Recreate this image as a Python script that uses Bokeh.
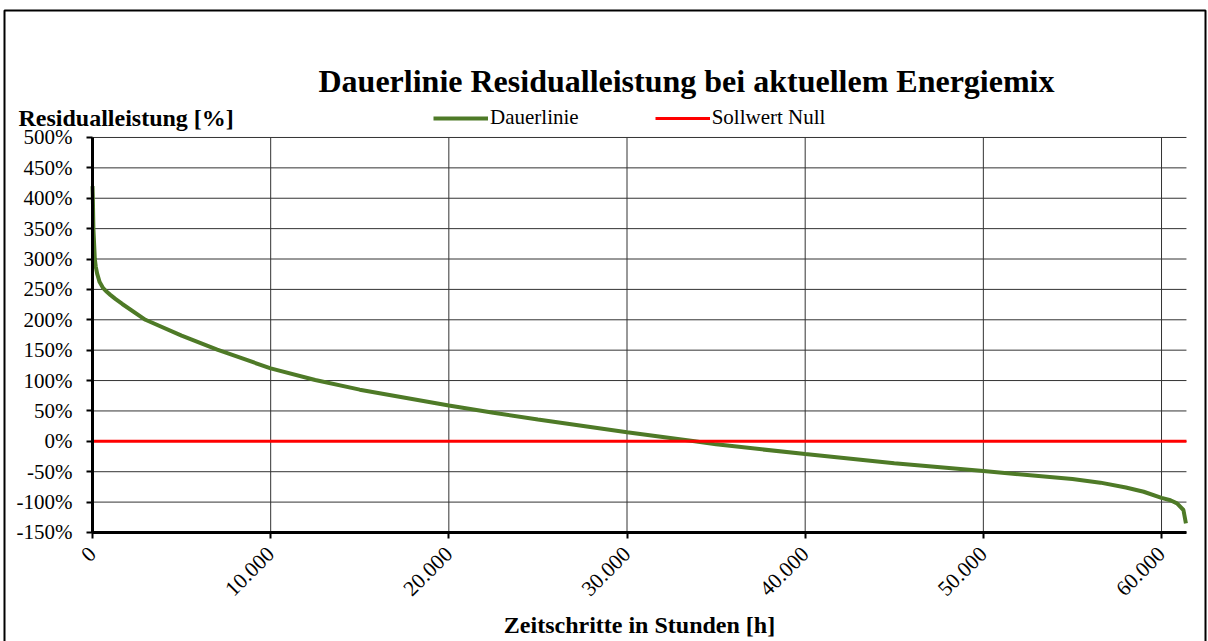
import math
from bokeh.plotting import figure
from bokeh.models import Label, Legend, LegendItem, FixedTicker, Range1d, BoxAnnotation
from bokeh.embed import file_html
from bokeh.resources import INLINE

# data
hours = [0, 20, 50, 130, 180, 260, 400, 600, 800, 1000, 1300, 1670, 2970, 5000, 7000,
         10000, 12500, 15000, 20000, 22500, 25000, 30000, 33800, 35000, 40000, 45000,
         50000, 55000, 56570, 58000, 59000, 60000, 60500, 60870, 61230, 61370]
residual = [420, 400, 350, 300, 288, 276, 262, 252, 246, 241, 234, 226, 200, 174, 151,
            120, 101, 85, 59, 47, 36, 15, 0, -5, -21, -36,
            -49, -62, -68, -76, -83, -93, -97, -102, -113, -135]
x_max = 61400
null_x = [0, x_max]
null_y = [0, 0]

x_ticks = [0, 10000, 20000, 30000, 40000, 50000, 60000]
x_tick_labels = ["0", "10.000", "20.000", "30.000", "40.000", "50.000", "60.000"]
y_ticks = [-150, -100, -50, 0, 50, 100, 150, 200, 250, 300, 350, 400, 450, 500]
y_tick_labels = ["-150%", "-100%", "-50%", "0%", "50%", "100%", "150%", "200%", "250%",
                 "300%", "350%", "400%", "450%", "500%"]

title_text = "Dauerlinie Residualleistung bei aktuellem Energiemix"
y_label_text = "Residualleistung [%]"
x_label_text = "Zeitschritte in Stunden [h]"
series_names = ["Dauerlinie", "Sollwert Null"]

FONT = "Liberation Serif"

# the frame covers the whole canvas, so nothing is clipped; both axes are placed
# at fixed data positions inside it
p = figure(width=1208, height=641, output_backend="svg", toolbar_location=None,
           x_range=Range1d(-5164, 62637), y_range=Range1d(-329.4, 725.4),
           min_border_left=0, min_border_right=0, min_border_top=0, min_border_bottom=0)
p.outline_line_color = None

# grid lines limited to the axes' extent
p.segment(x0=x_ticks, y0=[y_ticks[0]] * len(x_ticks), x1=x_ticks,
          y1=[y_ticks[-1]] * len(x_ticks), line_color="#333333", line_width=1)
p.segment(x0=[0] * len(y_ticks), y0=y_ticks, x1=[x_max] * len(y_ticks), y1=y_ticks,
          line_color="#333333", line_width=1)

g = p.line(hours, residual, line_color="#4E7A27", line_width=4)
r = p.line(null_x, null_y, line_color="#FF0000", line_width=3)

p.xaxis.ticker = FixedTicker(ticks=x_ticks)
p.yaxis.ticker = FixedTicker(ticks=y_ticks)
p.yaxis.bounds = (y_ticks[0], y_ticks[-1])
p.xaxis.bounds = (0, x_max)
p.yaxis.fixed_location = 0
p.xaxis.fixed_location = y_ticks[0]
p.xaxis.major_label_overrides = {t: l for t, l in zip(x_ticks, x_tick_labels)}
p.yaxis.major_label_overrides = {t: l for t, l in zip(y_ticks, y_tick_labels)}
p.xaxis.major_label_orientation = math.pi / 4
for ax in (p.xaxis, p.yaxis):
    ax.axis_line_width = 3
    ax.axis_line_color = "black"
    ax.major_tick_line_color = "black"
    ax.major_tick_line_width = 2
    ax.major_tick_out = 6
    ax.major_tick_in = 0
    ax.minor_tick_line_color = None
    ax.major_label_text_font = FONT
    ax.major_label_text_color = "black"
p.yaxis.major_label_text_font_size = "21px"
p.xaxis.major_label_text_font_size = "21.5px"
p.yaxis.major_label_standoff = 14
p.xaxis.major_label_standoff = 12

p.xgrid.visible = False
p.ygrid.visible = False

legend = Legend(items=[LegendItem(label=series_names[0], renderers=[g]),
                       LegendItem(label=series_names[1], renderers=[r])],
                orientation="horizontal", location=(433, 511), border_line_color=None,
                background_fill_alpha=0, label_text_font=FONT, label_text_font_size="21px",
                label_text_color="black",
                glyph_width=55, spacing=76, padding=0, margin=0, label_standoff=2)
p.add_layout(legend, "center")

p.add_layout(Label(x=318, y=561, x_units="screen", y_units="screen", text=title_text,
                   text_font=FONT, text_font_size="32px", text_font_style="bold",
                   text_color="black", text_baseline="middle"))
p.add_layout(Label(x=18, y=524, x_units="screen", y_units="screen", text=y_label_text,
                   text_font=FONT, text_font_size="24px", text_font_style="bold",
                   text_color="black", text_baseline="middle"))
p.add_layout(Label(x=639, y=17, x_units="screen", y_units="screen", text=x_label_text,
                   text_font=FONT, text_font_size="24px", text_font_style="bold",
                   text_color="black", text_baseline="middle", text_align="center"))

# outer chart border
p.add_layout(BoxAnnotation(left=4, right=1205, bottom=-20, top=631,
                           left_units="screen", right_units="screen",
                           bottom_units="screen", top_units="screen",
                           fill_alpha=0, line_color="black", line_alpha=1.0, line_width=2))

open("out.html", "w").write(file_html(p, INLINE))
